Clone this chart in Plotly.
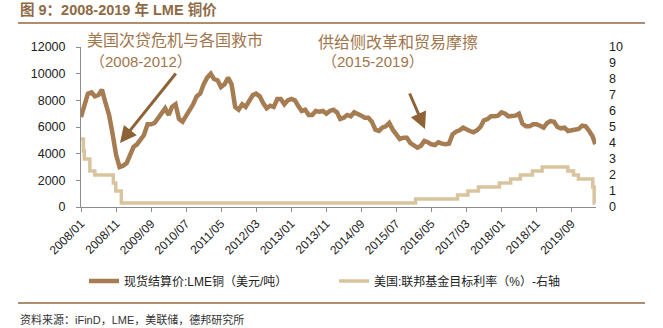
import pandas as pd
import plotly.graph_objects as go

# ---------------- data ----------------
copper_values = [
    # 2008
    6750, 7600, 8500, 8600, 8300, 8400, 8800, 7800, 6900, 5500, 3900, 3000,
    # 2009
    3100, 3300, 3900, 4500, 4700, 5100, 5400, 6200, 6200, 6300, 6700, 7000,
    # 2010
    7400, 6900, 7500, 7700, 6600, 6400, 6800, 7300, 7700, 8300, 8500, 9200,
    # 2011
    9700, 10000, 9600, 9500, 9000, 9200, 9700, 9200, 7500, 7300, 7700, 7500,
    # 2012
    8000, 8400, 8500, 8300, 7800, 7400, 7600, 7500, 8100, 8100, 7700, 8000,
    # 2013
    8100, 8000, 7600, 7200, 7300, 6900, 6900, 7200, 7150, 7200, 7000, 7200,
    # 2014
    7300, 7100, 6600, 6700, 6900, 6800, 7100, 7000, 6850, 6700, 6700, 6400,
    # 2015
    5800, 5700, 5950, 6050, 6300, 5800, 5450, 5100, 5200, 5200, 4800, 4600,
    # 2016
    4450, 4600, 4950, 4850, 4700, 4650, 4850, 4750, 4700, 4750, 5450, 5650,
    # 2017
    5750, 5950, 5800, 5700, 5600, 5750, 6000, 6500, 6600, 6800, 6800, 6850,
    # 2018
    7100, 7000, 6800, 6850, 6850, 7000, 6250, 6050, 6050, 6200, 6200, 6100,
    # 2019
    5950, 6300, 6450, 6400, 6000, 5900, 5950, 5700, 5750, 5750, 5850, 6100,
    # 2020
    6050, 5700, 5300, 4700,
]
copper_dates = [d.strftime("%Y-%m-%d") for d in pd.date_range("2008-01-01", "2020-03-01", freq="MS")] + ["2020-03-25"]

rate_dates = [
    "2008-01-01", "2008-01-22", "2008-01-30", "2008-03-18", "2008-04-30",
    "2008-10-08", "2008-10-29", "2008-12-16", "2015-12-16", "2016-12-14",
    "2017-03-15", "2017-06-14", "2017-12-13", "2018-03-21", "2018-06-13",
    "2018-09-26", "2018-12-19", "2019-07-31", "2019-09-18", "2019-10-30",
    "2020-03-03", "2020-03-15", "2020-03-25",
]
rate_values = [
    4.25, 3.5, 3.0, 2.25, 2.0,
    1.5, 1.0, 0.25, 0.5, 0.75,
    1.0, 1.25, 1.5, 1.75, 2.0,
    2.25, 2.5, 2.25, 2.0, 1.75,
    1.25, 0.25, 0.25,
]

tick_labels = ["2008/01", "2008/11", "2009/09", "2010/07", "2011/05", "2012/03", "2013/01",
               "2013/11", "2014/09", "2015/07", "2016/05", "2017/03", "2018/01", "2018/11", "2019/09"]
tick_dates = [t.replace("/", "-") + "-01" for t in tick_labels]

name_copper = "现货结算价:LME铜（美元/吨）"
name_rate = "美国:联邦基金目标利率（%）-右轴"
title_text = "图 9：2008-2019 年 LME 铜价"
source_text = "资料来源：iFinD，LME，美联储，德邦研究所"
note1 = ["美国次贷危机与各国救市", "（2008-2012）"]
note2 = ["供给侧改革和贸易摩擦", "（2015-2019）"]

# ---------------- layout helpers ----------------
W, H = 663, 328
L, R, T, B = 81, 596, 47, 207


def px(x):
    return (x - L) / (R - L)


def py(y):
    return (B - y) / (B - T)


FONT = "Liberation Sans, Arial, Noto Sans CJK SC"
BROWN = "#A67C52"
BEIGE = "#D8C59F"
ANN = "#A0764C"

fig = go.Figure()
fig.add_trace(go.Scatter(x=copper_dates, y=copper_values, name=name_copper, mode="lines",
                         line=dict(color=BROWN, width=4.5)))
fig.add_trace(go.Scatter(x=rate_dates, y=rate_values, name=name_rate, mode="lines", yaxis="y2",
                         line=dict(color=BEIGE, width=3.5, shape="hv")))

fig.update_layout(
    width=W, height=H,
    margin=dict(l=L, r=W - R, t=T, b=H - B, autoexpand=False),
    paper_bgcolor="white", plot_bgcolor="white",
    font=dict(family=FONT, color="#222", size=12),
    showlegend=True,
    legend=dict(orientation="h", x=px(84), y=py(281), xanchor="left", yanchor="middle",
                font=dict(size=12, color="#222"), entrywidth=205, entrywidthmode="pixels",
                bgcolor="rgba(0,0,0,0)"),
    xaxis=dict(type="date", range=["2008-01-01", "2020-03-31"], tickvals=tick_dates, ticktext=tick_labels,
               tickangle=-45, tickfont=dict(size=12), showgrid=False, showline=True, linecolor="#8c8c8c",
               linewidth=1, ticks="outside", ticklen=4, tickcolor="#8c8c8c", zeroline=False),
    yaxis=dict(range=[0, 12000], dtick=2000, tickformat="d", showgrid=False, showline=True, linecolor="#8c8c8c",
               linewidth=1, ticks="outside", ticklen=4, tickcolor="#8c8c8c", tickfont=dict(size=12.5),
               ticklabelstandoff=8, zeroline=False),
    yaxis2=dict(range=[0, 10], dtick=1, tickformat="d", overlaying="y", side="right", showgrid=False, showline=False,
                ticks="", tickfont=dict(size=12.5), ticklabelstandoff=12, zeroline=False),
    title=dict(text=title_text, x=20 / W, y=1 - 10 / H, xref="container", yref="container",
               xanchor="left", yanchor="middle",
               font=dict(size=14.5, color="#8D6A45", family=FONT, weight="bold")),
)

shapes = []
for yy in (23, 303):
    shapes.append(dict(type="line", xref="paper", yref="paper", x0=px(18), x1=px(645), y0=py(yy), y1=py(yy),
                       line=dict(color="#AD8F6F", width=2)))
fig.update_layout(shapes=shapes)

anns = [
    dict(text=source_text, x=px(18), y=py(319), xref="paper", yref="paper", xanchor="left", yanchor="middle",
         showarrow=False, font=dict(size=11, color="#333")),
    dict(text=note1[0], x=px(85), y=py(40), xref="paper", yref="paper", xanchor="left", yanchor="middle",
         showarrow=False, font=dict(size=16, color=ANN)),
    dict(text=note1[1], x=px(88), y=py(61), xref="paper", yref="paper", xanchor="left", yanchor="middle",
         showarrow=False, font=dict(size=15, color=ANN)),
    dict(text=note2[0], x=px(316), y=py(42), xref="paper", yref="paper", xanchor="left", yanchor="middle",
         showarrow=False, font=dict(size=16, color=ANN)),
    dict(text=note2[1], x=px(320), y=py(61), xref="paper", yref="paper", xanchor="left", yanchor="middle",
         showarrow=False, font=dict(size=15, color=ANN)),
    dict(text="", x=px(120), y=py(143), xref="paper", yref="paper", showarrow=True,
         ax=57, ay=-71, arrowhead=2, arrowsize=1.1, arrowwidth=3, arrowcolor="#8E6237"),
    dict(text="", x=px(425), y=py(129), xref="paper", yref="paper", showarrow=True,
         ax=-16, ay=-37, arrowhead=2, arrowsize=1.1, arrowwidth=3, arrowcolor="#8E6237"),
]
fig.update_layout(annotations=anns)

fig.write_html("out.html")
